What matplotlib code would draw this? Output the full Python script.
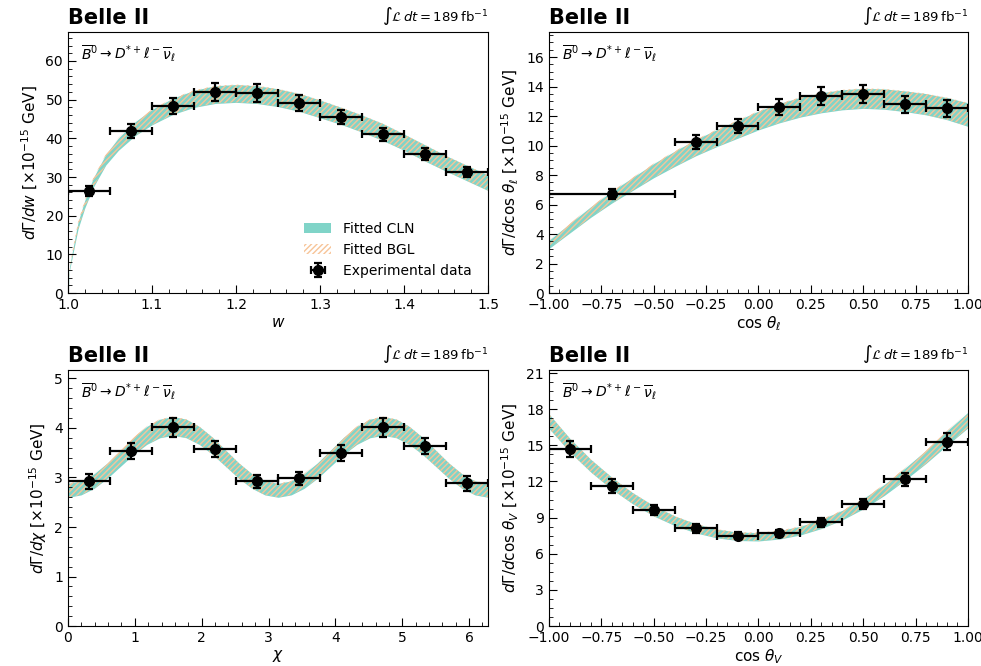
import numpy as np
import matplotlib
matplotlib.use("Agg")
from matplotlib import pyplot as plt
from matplotlib.patches import Patch

# ---- data ----
# dGamma/dw
w_pts = [1.025, 1.075, 1.125, 1.175, 1.225, 1.275, 1.325, 1.375, 1.425, 1.475]
w_val = [26.4, 41.9, 48.4, 52.0, 51.7, 49.1, 45.5, 41.1, 35.9, 31.3]
w_err = [1.3, 1.8, 2.1, 2.4, 2.4, 2.1, 1.9, 1.7, 1.5, 1.3]
w_xerr = [0.025] * 10
w_band_x = [1.0, 1.002, 1.006, 1.012, 1.02, 1.03, 1.045, 1.06, 1.08, 1.1, 1.125, 1.15,
            1.175, 1.2, 1.225, 1.25, 1.275, 1.3, 1.325, 1.35, 1.375, 1.4, 1.425, 1.45,
            1.475, 1.5]
w_band_c = [0.0, 6.5, 11.0, 17.5, 23.0, 28.5, 34.5, 38.5, 42.5, 45.5, 48.3, 50.2,
            51.3, 51.6, 51.3, 50.5, 49.3, 47.6, 45.8, 43.8, 41.6, 39.0, 36.2, 33.5,
            31.0, 28.5]
w_band_hw = [0.3, 0.5, 0.7, 0.9, 1.0, 1.2, 1.4, 1.6, 1.8, 2.0, 2.1, 2.2,
             2.3, 2.3, 2.3, 2.3, 2.3, 2.3, 2.2, 2.2, 2.2, 2.1, 2.1, 2.0,
             2.0, 2.0]

# dGamma/dcos(theta_l)
cl_pts = [-0.7, -0.3, -0.1, 0.1, 0.3, 0.5, 0.7, 0.9]
cl_val = [6.72, 10.24, 11.32, 12.63, 13.36, 13.49, 12.79, 12.52]
cl_err = [0.35, 0.5, 0.5, 0.55, 0.6, 0.6, 0.6, 0.6]
cl_xerr = [0.3, 0.1, 0.1, 0.1, 0.1, 0.1, 0.1, 0.1]
cl_band_x = [-1.0, -0.9, -0.8, -0.7, -0.6, -0.5, -0.4, -0.3, -0.2, -0.1, 0.0,
             0.1, 0.2, 0.3, 0.4, 0.5, 0.6, 0.7, 0.8, 0.9, 1.0]
cl_band_c = [3.3, 4.4, 5.5, 6.5, 7.4, 8.3, 9.1, 9.85, 10.5, 11.1, 11.7,
             12.2, 12.6, 12.9, 13.1, 13.2, 13.15, 13.0, 12.8, 12.5, 12.1]
cl_band_hw = [0.28, 0.32, 0.36, 0.4, 0.44, 0.48, 0.52, 0.55, 0.58, 0.61, 0.64,
              0.66, 0.67, 0.68, 0.68, 0.68, 0.69, 0.7, 0.72, 0.75, 0.8]

# dGamma/dchi
chi_pts = [0.314, 0.942, 1.571, 2.199, 2.827, 3.456, 4.084, 4.712, 5.341, 5.969]
chi_val = [2.92, 3.53, 4.01, 3.57, 2.92, 2.98, 3.49, 4.01, 3.63, 2.88]
chi_err = [0.15, 0.16, 0.19, 0.16, 0.14, 0.14, 0.16, 0.19, 0.16, 0.15]
chi_xerr = [0.314] * 10
chi_band_x = [0.0, 0.196, 0.393, 0.589, 0.785, 0.982, 1.178, 1.374, 1.571, 1.767,
              1.963, 2.160, 2.356, 2.553, 2.749, 2.945, 3.142, 3.338, 3.534, 3.731,
              3.927, 4.123, 4.320, 4.516, 4.712, 4.909, 5.105, 5.301, 5.498, 5.694,
              5.890, 6.087, 6.283]
chi_band_c = [2.74, 2.79, 2.93, 3.14, 3.39, 3.64, 3.85, 3.99, 4.04, 3.99,
              3.85, 3.64, 3.39, 3.14, 2.93, 2.79, 2.74, 2.79, 2.93, 3.14,
              3.39, 3.64, 3.85, 3.99, 4.04, 3.99, 3.85, 3.64, 3.39, 3.14,
              2.93, 2.79, 2.74]
chi_band_hw = [0.14, 0.142, 0.148, 0.156, 0.165, 0.174, 0.182, 0.188, 0.19, 0.188,
               0.182, 0.174, 0.165, 0.156, 0.148, 0.142, 0.14, 0.142, 0.148, 0.156,
               0.165, 0.174, 0.182, 0.188, 0.19, 0.188, 0.182, 0.174, 0.165, 0.156,
               0.148, 0.142, 0.14]

# dGamma/dcos(theta_V)
cv_pts = [-0.9, -0.7, -0.5, -0.3, -0.1, 0.1, 0.3, 0.5, 0.7, 0.9]
cv_val = [14.69, 11.62, 9.63, 8.11, 7.50, 7.69, 8.60, 10.10, 12.17, 15.30]
cv_err = [0.7, 0.55, 0.4, 0.35, 0.3, 0.3, 0.35, 0.42, 0.55, 0.7]
cv_xerr = [0.1] * 10
cv_band_x = [-1.0, -0.9, -0.8, -0.7, -0.6, -0.5, -0.4, -0.3, -0.2, -0.1, 0.0,
             0.1, 0.2, 0.3, 0.4, 0.5, 0.6, 0.7, 0.8, 0.9, 1.0]
cv_band_c = [17.0, 15.0, 13.3, 11.85, 10.6, 9.56, 8.74, 8.11, 7.68, 7.45, 7.41,
             7.57, 7.92, 8.47, 9.21, 10.15, 11.29, 12.62, 14.05, 15.6, 17.1]
cv_band_hw = [0.6, 0.57, 0.53, 0.5, 0.46, 0.43, 0.4, 0.38, 0.36, 0.35, 0.35,
              0.35, 0.36, 0.38, 0.4, 0.43, 0.46, 0.5, 0.55, 0.6, 0.65]

CLN_COLOR = "#80d4c8"
BGL_COLOR = "#f7c498"

panels = [
    dict(pts=w_pts, val=w_val, err=w_err, xerr=w_xerr, bx=w_band_x, bc=w_band_c, bh=w_band_hw,
         xlim=(1.0, 1.5), ylim=(0, 67.5), xticks=np.arange(1.0, 1.51, 0.1), yticks=np.arange(0, 61, 10),
         xfmt="{:.1f}", xlabel=r"$w$", ylabel=r"$d\Gamma/dw\ [\times10^{-15}\ \mathrm{GeV}]$",
         pos=[0.0693, 0.560, 0.4282, 0.392], legend=True),
    dict(pts=cl_pts, val=cl_val, err=cl_err, xerr=cl_xerr, bx=cl_band_x, bc=cl_band_c, bh=cl_band_hw,
         xlim=(-1, 1), ylim=(0, 17.7), xticks=np.arange(-1.0, 1.01, 0.25), yticks=np.arange(0, 17, 2),
         xfmt="{:.2f}", xlabel=r"$\cos\,\theta_\ell$", ylabel=r"$d\Gamma/d\cos\,\theta_\ell\ [\times10^{-15}\ \mathrm{GeV}]$",
         pos=[0.5596, 0.560, 0.4271, 0.392], legend=False),
    dict(pts=chi_pts, val=chi_val, err=chi_err, xerr=chi_xerr, bx=chi_band_x, bc=chi_band_c, bh=chi_band_hw,
         xlim=(0, 2 * np.pi), ylim=(0, 5.17), xticks=np.arange(0, 7, 1), yticks=np.arange(0, 6, 1),
         xfmt="{:.0f}", xlabel=r"$\chi$", ylabel=r"$d\Gamma/d\chi\ [\times10^{-15}\ \mathrm{GeV}]$",
         pos=[0.0693, 0.060, 0.4282, 0.3844], legend=False),
    dict(pts=cv_pts, val=cv_val, err=cv_err, xerr=cv_xerr, bx=cv_band_x, bc=cv_band_c, bh=cv_band_hw,
         xlim=(-1, 1), ylim=(0, 21.25), xticks=np.arange(-1.0, 1.01, 0.25), yticks=np.arange(0, 22, 3),
         xfmt="{:.2f}", xlabel=r"$\cos\,\theta_V$", ylabel=r"$d\Gamma/d\cos\,\theta_V\ [\times10^{-15}\ \mathrm{GeV}]$",
         pos=[0.5596, 0.060, 0.4271, 0.3844], legend=False),
]

fig = plt.figure(figsize=(9.81, 6.66), dpi=100)

for p in panels:
    ax = fig.add_axes(p["pos"])
    bx = np.array(p["bx"])
    lo = np.array(p["bc"]) - np.array(p["bh"])
    hi = np.array(p["bc"]) + np.array(p["bh"])
    ax.fill_between(bx, lo, hi, color=CLN_COLOR, lw=0, label="Fitted CLN")
    ax.fill_between(bx, lo, hi, facecolor="none", edgecolor=BGL_COLOR, hatch="//////", lw=0,
                    label="Fitted BGL")
    ax.errorbar(p["pts"], p["val"], yerr=p["err"], xerr=p["xerr"], fmt="o", color="black",
                ms=7, elinewidth=1.6, capsize=3, capthick=1.6, label="Experimental data")

    ax.set_xlim(*p["xlim"])
    ax.set_ylim(*p["ylim"])
    ax.set_xticks(p["xticks"])
    ax.set_xticklabels([p["xfmt"].format(t).replace("-", "\u2212") for t in p["xticks"]])
    ax.set_yticks(p["yticks"])
    ax.minorticks_on()
    ax.tick_params(which="both", direction="in", top=False, right=False, labelsize=10)
    ax.tick_params(which="major", length=6)
    ax.tick_params(which="minor", length=3)
    ax.set_xlabel(p["xlabel"], fontsize=11, labelpad=2)
    ax.set_ylabel(p["ylabel"], fontsize=11, labelpad=4)

    ax.text(0.0, 1.015, "Belle II", transform=ax.transAxes, fontsize=15, fontweight="bold",
            ha="left", va="bottom")
    ax.text(1.0, 1.02, r"$\int\mathcal{L}\,dt = 189\,\mathrm{fb}^{-1}$", transform=ax.transAxes,
            fontsize=9.5, ha="right", va="bottom")
    ax.text(0.03, 0.955, r"$\overline{B}^0 \rightarrow D^{*+}\ell^-\overline{\nu}_\ell$",
            transform=ax.transAxes, fontsize=10, ha="left", va="top")

    if p["legend"]:
        handles = [Patch(facecolor=CLN_COLOR, lw=0),
                   Patch(facecolor="white", edgecolor=BGL_COLOR, hatch="//////", lw=0),
                   ax.get_legend_handles_labels()[0][-1]]
        ax.legend(handles, ["Fitted CLN", "Fitted BGL", "Experimental data"], loc="lower right",
                  frameon=False, fontsize=10, bbox_to_anchor=(0.99, 0.01))

fig.savefig("out.png", dpi=100)
